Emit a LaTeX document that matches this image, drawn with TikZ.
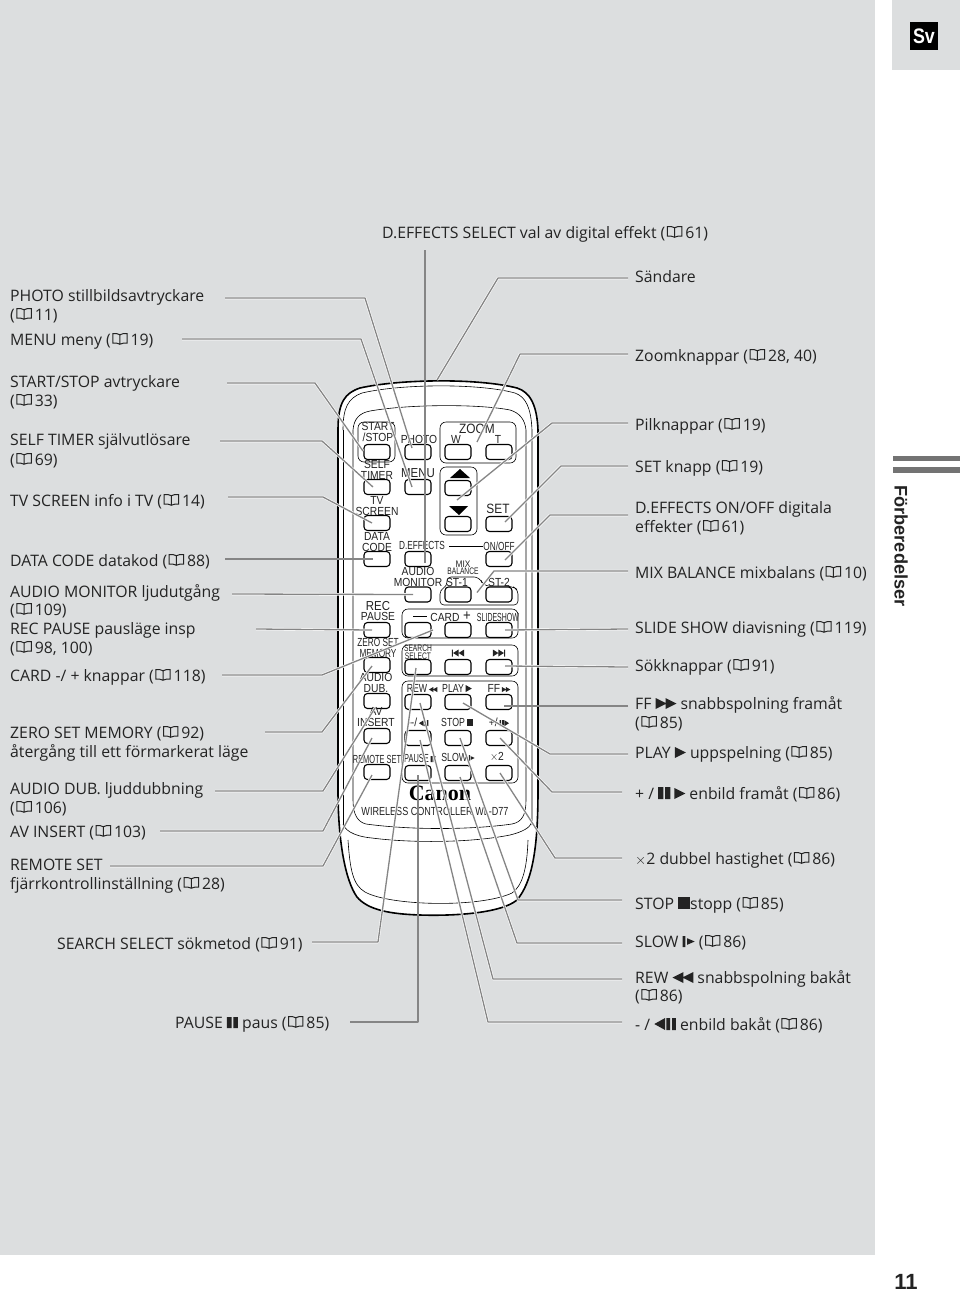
\documentclass[tikz,border=0pt]{standalone}
\usepackage{fontspec}
\setmainfont{Open Sans}
\newfontfamily\remotefont{Liberation Sans}
\newfontfamily\canonfont{Liberation Serif}
\usepackage{xcolor}
\definecolor{panelgray}{HTML}{DCDEDF}
\definecolor{leadergray}{HTML}{858585}
\definecolor{barsgray}{HTML}{737373}
\definecolor{inkgray}{HTML}{232323}
\newcommand\bookicon{\tikz[x=1.2pt,y=1.05pt,baseline=-0.5pt,line width=1pt]{
  \draw (7,0.3) .. controls (5,1.6) and (3,1.4) .. (1,1.4) -- (1,10.3) .. controls (3,10.6) and (5,10.8) .. (7,9.3)
    .. controls (9,10.8) and (11,10.6) .. (13,10.3) -- (13,1.4) .. controls (11,1.4) and (9,1.6) .. (7,0.3) -- (7,9.3);
}}
\newcommand\bk[1]{(\kern1.5pt\bookicon\kern3pt#1)}
\newcommand\symplay[1]{\tikz[x=#1pt,y=#1pt,baseline=0pt]\fill (0,0)--(1,.5)--(0,1)--cycle;}
\newcommand\symrew[1]{\tikz[x=#1pt,y=#1pt,baseline=0pt]\fill (1,0)--(0,.5)--(1,1)--cycle (1.9,0)--(.9,.5)--(1.9,1)--cycle;}
\newcommand\symff[1]{\tikz[x=#1pt,y=#1pt,baseline=0pt]\fill (0,0)--(1,.5)--(0,1)--cycle (.9,0)--(1.9,.5)--(.9,1)--cycle;}
\newcommand\sympause[1]{\tikz[x=#1pt,y=#1pt,baseline=0pt]\fill (0,0) rectangle (.42,1) (.58,0) rectangle (1,1);}
\newcommand\symstop[1]{\tikz[x=#1pt,y=#1pt,baseline=0pt]\fill (0,0) rectangle (1,1);}
\newcommand\symslow[1]{\tikz[x=#1pt,y=#1pt,baseline=0pt]\fill (0,0) rectangle (.25,1) (.4,.2)--(1.1,.5)--(.4,.8)--cycle;}
\newcommand\symback[1]{\tikz[x=#1pt,y=#1pt,baseline=0pt]\fill (.9,0)--(0,.5)--(.9,1)--cycle (1,0) rectangle (1.32,1) (1.48,0) rectangle (1.8,1);}
\newcommand\symstep[1]{\tikz[x=#1pt,y=#1pt,baseline=0pt]\fill (0,0) rectangle (.32,1) (.48,0) rectangle (.8,1) (.9,0)--(1.8,.5)--(.9,1)--cycle;}
\newcommand\symprev[1]{\tikz[x=#1pt,y=#1pt,baseline=0pt]\fill (0,0) rectangle (.18,1) (1.1,0)--(.2,.5)--(1.1,1)--cycle (2,0)--(1.1,.5)--(2,1)--cycle;}
\newcommand\symnext[1]{\tikz[x=#1pt,y=#1pt,baseline=0pt]\fill (0,0)--(.9,.5)--(0,1)--cycle (.9,0)--(1.8,.5)--(.9,1)--cycle (1.82,0) rectangle (2,1);}
\newcommand\nrw[2][.8]{\scalebox{#1}[1]{#2}}
\tikzset{
  lbl/.style={anchor=base west,inner sep=0,text=inkgray,font=\fontsize{15.8}{18}\selectfont},
  rtxt/.style={inner sep=0,text=inkgray,align=center,xscale=.88,transform shape,font=\remotefont\fontsize{11.7}{10.5}\selectfont},
  remotebtn/.style={draw=black,fill=white,line width=1.1pt,rounded corners=3.5pt,minimum width=26pt,minimum height=15pt,inner sep=0},
  grp/.style={draw=black,line width=.6pt,rounded corners=6pt},
  leader/.style={draw=white,line width=.6pt,double=leadergray,double distance=1.3pt,line join=round},
}

\begin{document}
\begin{tikzpicture}[x=1pt,y=-1pt]
	\useasboundingbox (0,0) rectangle (960,1294);
	\fill[panelgray] (0,0) rectangle (875,1255);
	\fill[panelgray] (892,0) rectangle (960,70);
	\node[fill=black,text=white,minimum size=28pt,inner sep=0,font=\remotefont\bfseries\fontsize{21}{21}\selectfont] (svbox) at (924,36) {\nrw[.85]{Sv}};
	\fill[barsgray] (893,456) rectangle (960,461);
	\fill[barsgray] (893,467) rectangle (960,473);
	\node[rotate=-90,inner sep=0,text=inkgray,font=\remotefont\bfseries\fontsize{18.2}{18}\selectfont] (chapter) at (901,546) {Förberedelser};
	\node[inner sep=0,text=inkgray,font=\remotefont\bfseries\fontsize{22}{22}\selectfont] (pageno) at (906,1282) {11};
	% remote body
	\draw[black,fill=white,line width=1.6pt] (338,430) .. controls (338,402) and (345,393) .. (360,388)
		.. controls (400,379) and (478,378) .. (517,388) .. controls (530,392) and (537,405) .. (538,430)
		-- (538,790) .. controls (538,850) and (532,882) .. (517,900) .. controls (500,914) and (450,916) .. (420,915)
		.. controls (390,914) and (368,910) .. (357,897) .. controls (345,880) and (338,840) .. (338,790) -- cycle;
	\draw[black,line width=.6pt] (343,430) .. controls (343,408) and (348,398) .. (362,393) .. controls (400,384) and (478,383) .. (515,393)
		.. controls (526,397) and (531,408) .. (532,430) -- (532,825);
	\draw[black,line width=.6pt] (343,430) -- (343,826);
	\draw[black,line width=.6pt] (353,430) .. controls (354,418) and (360,413) .. (370,411) .. controls (410,404) and (480,404) .. (510,410)
		.. controls (520,413) and (525,420) .. (526,430) -- (526,800) .. controls (526,815) and (522,822) .. (512,824)
		.. controls (470,830) and (410,830) .. (366,824) .. controls (358,822) and (353,815) .. (353,800) -- cycle;
	\draw[black,line width=.6pt] (343,824) .. controls (346,833) and (360,837) .. (372,838) .. controls (410,843) and (470,843) .. (510,835) .. controls (522,832) and (530,828) .. (532,822);
	\draw[black,line width=.6pt] (348,840) .. controls (350,870) and (353,885) .. (365,892) .. controls (390,906) and (480,908) .. (512,893) .. controls (522,886) and (527,870) .. (528,840);
	% groups of buttons
	\draw[grp] (358,422) rectangle (395,462);
	\draw[grp] (440,422) rectangle (516,463);
	\draw[grp] (440,467) rectangle (477,535);
	\draw[grp] (447,577) -- (480,577) -- (483,586) -- (512,586) [rounded corners=4pt] -- (518,590) -- (518,605) -- (440,605) -- (440,590) -- (447,586) -- cycle;
	\draw[grp] (402,609) rectangle (518,638);
	\draw[grp] (402,645) rectangle (518,676);
	\draw[grp] (402,681) rectangle (518,783);
	% buttons
	\foreach \bname/\bx/\by in {bstart/377/452,bself/377/487,btv/377/523,bdata/377/559,brec/377/630,bzero/377/665,bdub/377/701,bav/377/736,bremote/377/772,
		bphoto/418/452,bmenu/418/487,bdeff/418/559,bmonitor/418/594.5,bcardm/418/630,bsearch/418/667,brew/418/702,bback/418/738,bpause/418/773,
		bzoomw/458/452,bup/458/488,bdown/458/524,bstone/458/594.5,bcardp/458/630,bprev/458/667,bplay/458/702,bstop/458/738,bslow/458/773,
		bzoomt/499/452,bset/499/524,bonoff/499/559,bsttwo/499/594.5,bslide/499/630,bnext/499/667,bff/499/702,bstep/499/738,bdouble/499/773}
		\node[remotebtn] (\bname) at (\bx,\by) {};
	\fill[black] (450,478) -- (470,478) -- (460,469) -- cycle;
	\fill[black] (449,506) -- (468,506) -- (459,515) -- cycle;
	% texts on the remote
	\node[rtxt] (tstart) at (378,432) {START\\/STOP};
	\node[rtxt] (tphoto) at (419,439) {PHOTO};
	\node[rtxt,font=\remotefont\fontsize{13.5}{12}\selectfont] (tzoom) at (477,429) {ZOOM};
	\node[rtxt] (tw) at (456,439) {W};
	\node[rtxt] (tt) at (498,439) {T};
	\node[rtxt] (tself) at (377,470) {SELF\\TIMER};
	\node[rtxt,font=\remotefont\fontsize{13}{12}\selectfont] (tmenu) at (418,473) {MENU};
	\node[rtxt] (ttv) at (377,506) {TV\\SCREEN};
	\node[rtxt,font=\remotefont\fontsize{13.5}{12}\selectfont] (tset) at (498,509) {SET};
	\node[rtxt] (tdata) at (377,542) {DATA\\CODE};
	\node[rtxt] (tdeff) at (422,545) {\nrw{D.EFFECTS}};
	\node[rtxt] (tonoff) at (499,546) {\nrw{ON/OFF}};
	\draw[black,line width=.6pt] (449,546) -- (483,546);
	\node[rtxt] (tmonitor) at (418,577) {AUDIO\\MONITOR};
	\node[rtxt,font=\remotefont\fontsize{9.5}{7.5}\selectfont] (tmix) at (463,568) {MIX\\\nrw{BALANCE}};
	\node[rtxt] (tstone) at (457,582) {ST-1};
	\node[rtxt] (tsttwo) at (499,582) {ST-2};
	\node[rtxt] (trec) at (378,611) {\fontsize{13}{11}\selectfont REC\\PAUSE};
	\node[rtxt] (tcard) at (445,617) {CARD};
	\node[rtxt,font=\remotefont\fontsize{15}{14}\selectfont] (tcardp) at (467,616) {+};
	\draw[black,line width=.8pt] (413,616) -- (427,616);
	\node[rtxt] (tslide) at (498,617) {\nrw[.68]{SLIDESHOW}};
	\node[rtxt] (tzero) at (378,648) {\nrw{ZERO SET}\\\nrw{MEMORY}};
	\node[rtxt,font=\remotefont\fontsize{9.5}{7.5}\selectfont] (tsearch) at (418,652) {\nrw{SEARCH}\\\nrw{SELECT}};
	\node[rtxt] (tprev) at (458,653) {\symprev{7}};
	\node[rtxt] (tnext) at (499,653) {\symnext{7}};
	\node[rtxt] (tdub) at (376,683) {AUDIO\\DUB.};
	\node[rtxt] (trew) at (422,688) {\nrw[.85]{REW}\,\symrew{5}};
	\node[rtxt] (tplay) at (457,688) {\nrw[.85]{PLAY}\,\symplay{7}};
	\node[rtxt] (tff) at (499,688) {FF\,\symff{5}};
	\node[rtxt] (tav) at (376,717) {AV\\INSERT};
	\node[rtxt] (tback) at (418,722) {--/\,\symback{6}};
	\node[rtxt] (tstop) at (457,722) {\nrw[.85]{STOP}\,\symstop{7}};
	\node[rtxt] (tstep) at (499,722) {+/\,\symstep{6}};
	\node[rtxt] (tremote) at (377,759) {\nrw[.72]{REMOTE SET}};
	\node[rtxt] (tpause) at (420,758) {\nrw[.72]{PAUSE}\,\sympause{6}};
	\node[rtxt] (tslow) at (458,757) {\nrw[.85]{SLOW}\,\symslow{6}};
	\node[rtxt] (tdouble) at (497,757) {$\times$2};
	\node[inner sep=0,font=\canonfont\bfseries\fontsize{22}{22}\selectfont] (tcanon) at (440,793) {Canon};
	\node[rtxt] (twl) at (435,811.5) {\nrw[.88]{WIRELESS CONTROLLER WL-D77}};
	% free ends
	\coordinate (topedge) at (437,380);
	\foreach \cname/\cx/\cy in {sphoto/225/298,smenu/182/339,sstart/227/383,sself/220/441,stv/228/497,sdata/225/559,smonitor/232/594,
		srec/256/629,scard/222/675,szero/265/732,sdub/215/791,sav/160/831,sremote/110/866,ssearch/312/942,spause/350/1022,
		sdeff/425/250,ssend/628/278,szoom/628/354,spil/628/423,sset/628/466,sonoff/628/515,smix/628/571,sslide/628/629,ssok/628/667,sff/628/706,
		splay/628/754,sstep/622/792,sdouble/622/858,sstop/622/900,sslow/622/943,srew/622/979,sback/622/1022}
		\coordinate (\cname) at (\cx,\cy);
	% leaders with a bend
	\foreach \st/\ex/\ey/\bt/\dx/\dy in {sphoto/365/298/bphoto/-6/-4,smenu/361/339/bmenu/-6/0,sstart/315/383/bstart/-14/-1,sself/322/441/bself/-4/0,stv/323/497/btv/-5/0,
		scard/322/675/bcardm/15/0,szero/322/732/bzero/-5/1,sdub/323/791/bdub/-2/7,sav/323/831/bav/-5/2,sremote/323/866/bremote/-5/3,
		ssearch/378/942/bsearch/-2/1,spause/418/1022/bpause/0/2,
		szoom/520/354/bzoomw/19/-10,spil/552/423/bup/-1/12,sset/561/466/bset/6/-2,sonoff/550/515/bonoff/6/1,smix/494/571/bstone/19/-2,
		splay/550/754/bplay/5/1,sstep/552/792/bstep/1/0,sdouble/555/858/bdouble/1/0,sstop/518/900/bstop/2/0,sslow/517/943/bslow/2/4,srew/493/979/brew/2/1,sback/488/1022/bback/2/2}
		\draw[leader] (\st) -- (\ex,\ey) -- ([shift={(\dx,\dy)}]\bt.center);
	% straight leaders
	\foreach \st/\bt/\dx/\dy in {sdata/bdata/-4/0,smonitor/bmonitor/-5/0,srec/brec/-5/0,sdeff/bdeff/7/4,sslide/bslide/6/0,ssok/bnext/6/-1,sff/bff/5/4}
		\draw[leader] (\st) -- ([shift={(\dx,\dy)}]\bt.center);
	\draw[leader] (ssend) -- (498,278) -- (topedge);
	% left column
	\node[lbl] (lphoto) at (10,301) {PHOTO stillbildsavtryckare};
	\node[lbl] (lphotob) at (10,320) {\bk{11}};
	\node[lbl] (lmenu) at (10,345) {MENU meny \bk{19}};
	\node[lbl] (lstart) at (10,387) {START/STOP avtryckare};
	\node[lbl] (lstartb) at (10,406) {\bk{33}};
	\node[lbl] (lself) at (10,445) {SELF TIMER självutlösare};
	\node[lbl] (lselfb) at (10,465) {\bk{69}};
	\node[lbl] (ltv) at (10,506) {TV SCREEN info i TV \bk{14}};
	\node[lbl] (ldata) at (10,566) {DATA CODE datakod \bk{88}};
	\node[lbl] (lmonitor) at (10,597) {AUDIO MONITOR ljudutgång};
	\node[lbl] (lmonitorb) at (10,615) {\bk{109}};
	\node[lbl] (lrec) at (10,634) {REC PAUSE pausläge insp};
	\node[lbl] (lrecb) at (10,653) {\bk{98, 100}};
	\node[lbl] (lcard) at (10,681) {CARD -/ + knappar \bk{118}};
	\node[lbl] (lzero) at (10,738) {ZERO SET MEMORY \bk{92}};
	\node[lbl] (lzerob) at (10,757) {återgång till ett förmarkerat läge};
	\node[lbl] (ldub) at (10,794) {AUDIO DUB. ljuddubbning};
	\node[lbl] (ldubb) at (10,813) {\bk{106}};
	\node[lbl] (lav) at (10,837) {AV INSERT \bk{103}};
	\node[lbl] (lremote) at (10,870) {REMOTE SET};
	\node[lbl] (lremoteb) at (10,889) {fjärrkontrollinställning \bk{28}};
	\node[lbl] (lsearch) at (57,949) {SEARCH SELECT sökmetod \bk{91}};
	\node[lbl] (lpause) at (175,1028) {PAUSE \sympause{11} paus \bk{85}};
	% top and right column
	\node[lbl] (ldeff) at (382,238) {D.EFFECTS SELECT val av digital effekt \bk{61}};
	\node[lbl] (rsend) at (635,282) {Sändare};
	\node[lbl] (rzoom) at (635,361) {Zoomknappar \bk{28, 40}};
	\node[lbl] (rpil) at (635,430) {Pilknappar \bk{19}};
	\node[lbl] (rset) at (635,472) {SET knapp \bk{19}};
	\node[lbl] (ronoff) at (635,513) {D.EFFECTS ON/OFF digitala};
	\node[lbl] (ronoffb) at (635,532) {effekter \bk{61}};
	\node[lbl] (rmix) at (635,578) {MIX BALANCE mixbalans \bk{10}};
	\node[lbl] (rslide) at (635,633) {SLIDE SHOW diavisning \bk{119}};
	\node[lbl] (rsok) at (635,671) {Sökknappar \bk{91}};
	\node[lbl] (rff) at (635,709) {FF \symff{11} snabbspolning framåt};
	\node[lbl] (rffb) at (635,728) {\bk{85}};
	\node[lbl] (rplay) at (635,758) {PLAY \symplay{11} uppspelning \bk{85}};
	\node[lbl] (rstep) at (635,799) {+ / \sympause{12} \symplay{11} enbild framåt \bk{86}};
	\node[lbl] (rdouble) at (635,864) {$\times$2 dubbel hastighet \bk{86}};
	\node[lbl] (rstop) at (635,909) {STOP \symstop{12}stopp \bk{85}};
	\node[lbl] (rslow) at (635,947) {SLOW \symslow{11} \bk{86}};
	\node[lbl] (rrew) at (635,983) {REW \symrew{11} snabbspolning bakåt};
	\node[lbl] (rrewb) at (635,1001) {\bk{86}};
	\node[lbl] (rback) at (635,1030) {- / \symback{12} enbild bakåt \bk{86}};
\end{tikzpicture}
\end{document}
